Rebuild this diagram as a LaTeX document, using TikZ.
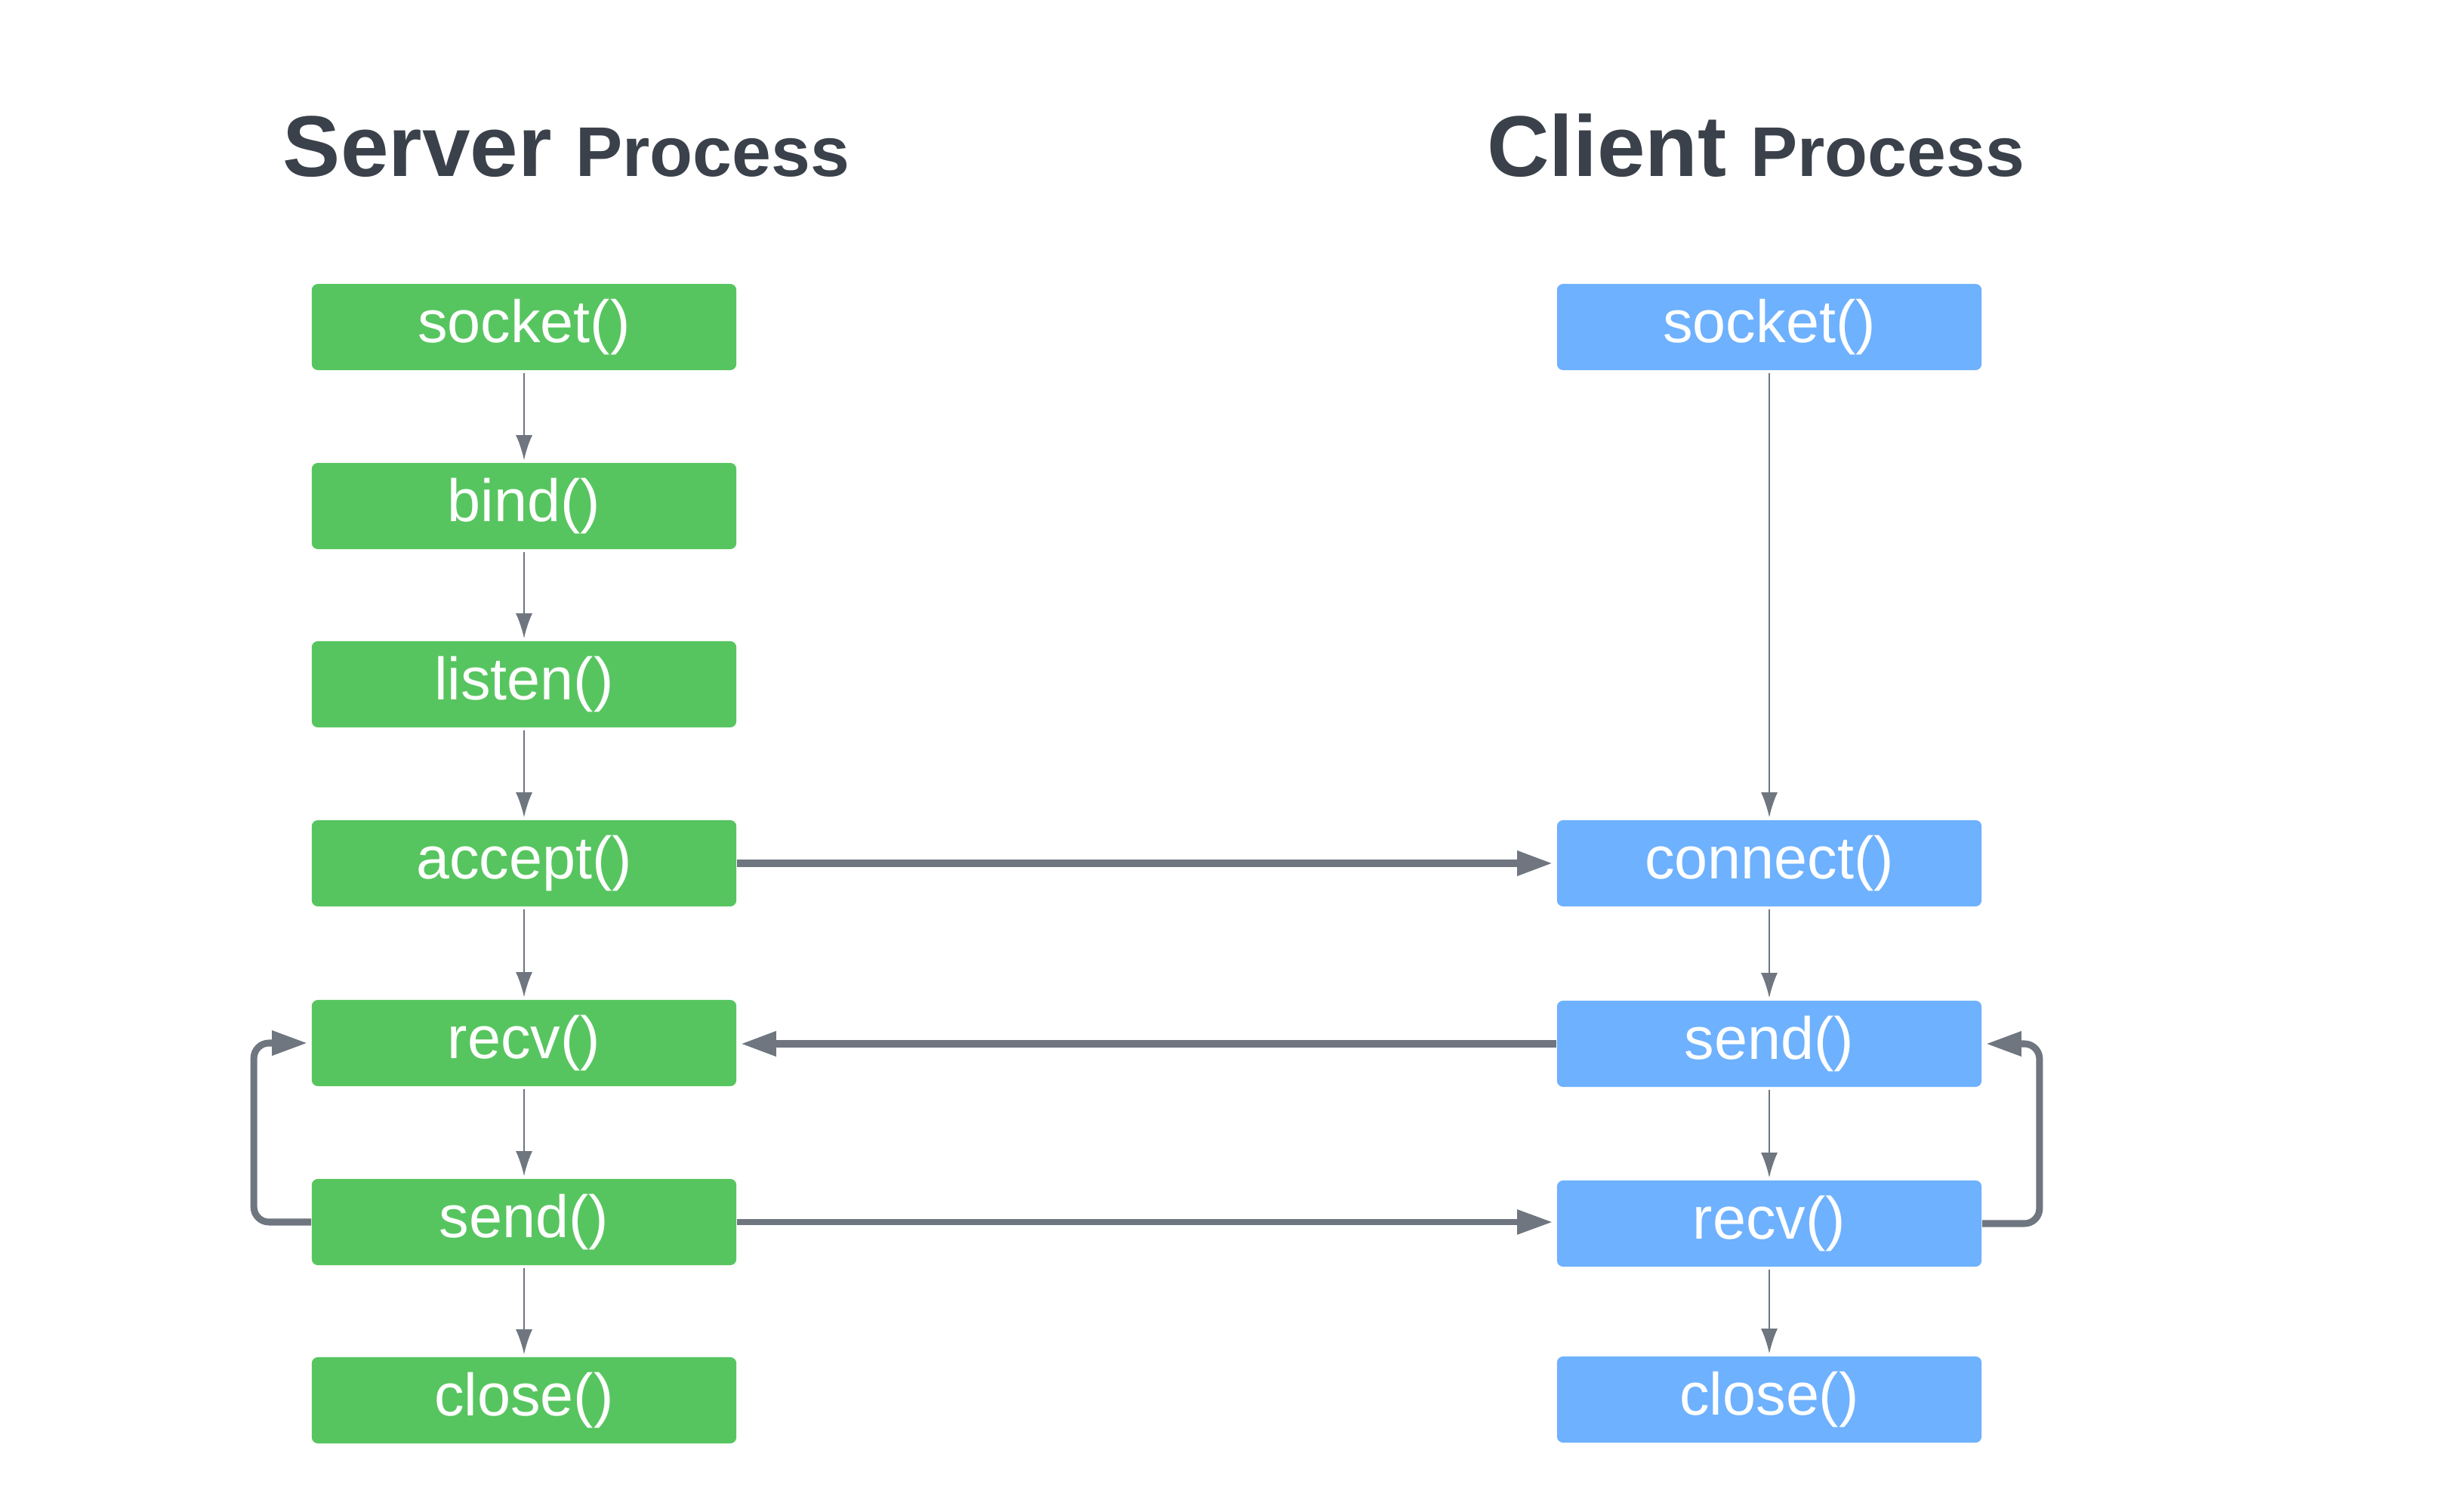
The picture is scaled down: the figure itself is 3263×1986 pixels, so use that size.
\documentclass[tikz,border=0pt]{standalone}
\usepackage{fontspec}
\setmainfont{Liberation Sans}
\usetikzlibrary{arrows.meta}
\definecolor{srvgreen}{HTML}{57C55F}
\definecolor{cliblue}{HTML}{6EB1FE}
\definecolor{linegray}{HTML}{6F7680}
\definecolor{titlegray}{HTML}{3A414A}
\tikzset{
  callbox/.style={rounded corners=0.08cm, minimum width=5.62cm, minimum height=1.14cm, inner sep=0pt, text=white, font=\fontsize{22.5}{26}\selectfont},
  srvbox/.style={callbox, fill=srvgreen},
  clibox/.style={callbox, fill=cliblue},
  flow/.style={draw=linegray, line width=0.7pt, shorten <=0.03cm, shorten >=0.03cm, -{Latex[length=0.33cm, width=0.22cm]}},
  msg/.style={draw=linegray, line width=0.095cm, shorten >=0.05cm, -{Triangle[length=0.47cm, width=0.31cm]}},
  loopback/.style={msg, line width=0.09cm, rounded corners=0.2cm},
  title/.style={text=titlegray, anchor=base, inner sep=0pt}
}
\begin{document}
\begin{tikzpicture}[x=0.01cm, y=-0.01cm]
\useasboundingbox (0, 0) rectangle (3263, 1986);
\node[title] (srvtitle) at (750, 234){\fontsize{32.5}{36}\selectfont\bfseries Server \fontsize{26.5}{30}\selectfont Process};
\node[title] (clititle) at (2325, 234){\fontsize{32.5}{36}\selectfont\bfseries Client \fontsize{26.5}{30}\selectfont Process};
\node[srvbox] (srvsocket) at (694, 433){socket()};
\node[srvbox] (srvbind) at (694, 670){bind()};
\node[srvbox] (srvlisten) at (694, 906){listen()};
\node[srvbox] (srvaccept) at (694, 1143){accept()};
\node[srvbox] (srvrecv) at (694, 1381){recv()};
\node[srvbox] (srvsend) at (694, 1618){send()};
\node[srvbox] (srvclose) at (694, 1854){close()};
\node[clibox] (clisocket) at (2343, 433){socket()};
\node[clibox] (cliconnect) at (2343, 1143){connect()};
\node[clibox] (clisend) at (2343, 1382){send()};
\node[clibox] (clirecv) at (2343, 1620){recv()};
\node[clibox] (cliclose) at (2343, 1853){close()};
\draw[flow] (srvsocket) -- (srvbind);
\draw[flow] (srvbind) -- (srvlisten);
\draw[flow] (srvlisten) -- (srvaccept);
\draw[flow] (srvaccept) -- (srvrecv);
\draw[flow] (srvrecv) -- (srvsend);
\draw[flow] (srvsend) -- (srvclose);
\draw[flow] (clisocket) -- (cliconnect);
\draw[flow] (cliconnect) -- (clisend);
\draw[flow] (clisend) -- (clirecv);
\draw[flow] (clirecv) -- (cliclose);
\draw[msg] (srvaccept.east) -- (srvaccept.east -| cliconnect.west);
\draw[msg] (clisend.west) -- (clisend.west -| srvrecv.east);
\draw[msg, line width=0.085cm] (srvsend.east) -- (srvsend.east -| clirecv.west);
\draw[loopback] (srvsend.west) -- ++(-76, 0) |- (srvrecv.west);
\draw[loopback] (clirecv.east) -- ++(76, 0) |- (clisend.east);
\end{tikzpicture}
\end{document}
